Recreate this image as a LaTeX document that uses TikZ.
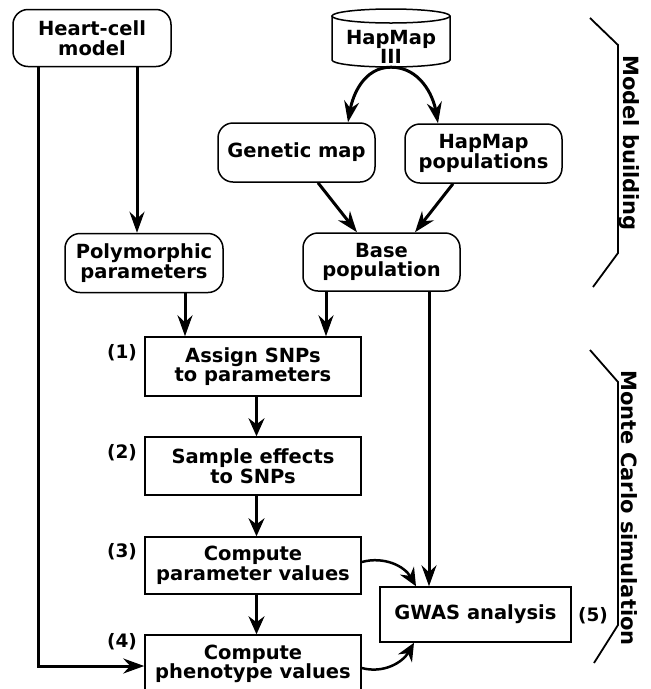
\documentclass[tikz,border=0pt]{standalone}
\usepackage{fontspec}
\setmainfont{DejaVu Sans}
\usetikzlibrary{arrows.meta}
\begin{document}
\begin{tikzpicture}[x=1pt,y=-1pt,
  every node/.style={font=\bfseries\fontsize{19.5}{19.5}\selectfont, align=center, inner sep=0pt},
  rbox/.style={draw, line width=1.5pt, rounded corners=15pt},
  sbox/.style={draw, line width=1.5pt},
  arr/.style={line width=3pt, -{Stealth[length=21pt,width=15pt,inset=7pt]}},
  sarr/.style={line width=2.5pt, -{Stealth[length=18pt,width=16pt,inset=6pt]}},
  brk/.style={line width=1.8pt},
  num/.style={font=\bfseries\fontsize{18.5}{18.5}\selectfont},
  side/.style={rotate=-90, font=\bfseries\fontsize{21}{21}\selectfont}
]
\useasboundingbox (0,0) rectangle (651,689);

% rounded boxes
\node[rbox, minimum width=158pt, minimum height=57pt] (hc) at (92,38) {Heart-cell\\model};
\node[rbox, minimum width=158pt, minimum height=59pt] (pp) at (144,263) {Polymorphic\\parameters};
\node[rbox, minimum width=157pt, minimum height=59pt] (gm) at (296.5,152.5) {Genetic map};
\node[rbox, minimum width=157pt, minimum height=59pt] (hp) at (483.5,153.5) {HapMap\\populations};
\node[rbox, minimum width=157pt, minimum height=58pt] (bp) at (381.5,262) {Base\\population};

% cylinder
\node[minimum width=118pt, minimum height=58pt] (hm) at (391,38) {};
\draw[line width=1.5pt] (332,16) -- (332,60) arc[start angle=180, end angle=360, x radius=59pt, y radius=7pt] -- (450,16);
\draw[line width=1.5pt] (391,16) ellipse [x radius=59pt, y radius=7pt];
\node[font=\bfseries\fontsize{19.5}{17}\selectfont] (hmt) at (391,47) {HapMap\\III};

% square boxes
\node[sbox, minimum width=216pt, minimum height=59pt] (a1) at (253,366.5) {Assign SNPs\\to parameters};
\node[sbox, minimum width=216pt, minimum height=58pt] (a2) at (253,466) {Sample effects\\to SNPs};
\node[sbox, minimum width=216pt, minimum height=57pt] (a3) at (253,565.5) {Compute\\parameter values};
\node[sbox, minimum width=216pt, minimum height=58pt] (a4) at (253,664) {Compute\\phenotype values};
\node[sbox, minimum width=191pt, minimum height=55pt] (gw) at (475.5,614.5) {GWAS analysis};

% step numbers
\node[num] (n1) at (122,353) {(1)};
\node[num] (n2) at (122,453) {(2)};
\node[num] (n3) at (122,552) {(3)};
\node[num] (n4) at (122,642) {(4)};
\node[num] (n5) at (593,616) {(5)};

% arrows
\draw[arr] (hm.south) to[out=180, in=80] ([xshift=51.5pt]gm.north);
\draw[arr] (hm.south) to[out=0, in=100] ([xshift=-45.5pt]hp.north);
\draw[arr] ([xshift=21.5pt]gm.south) -- ([xshift=-24.5pt]bp.north);
\draw[arr] ([xshift=-30.5pt]hp.south) -- ([xshift=33.5pt]bp.north);
\draw[arr] ([xshift=45pt]hc.south) -- ([xshift=45pt]hc.south |- pp.north);
\draw[arr] ([xshift=-54pt]hc.south) |- ([yshift=-2pt]a4.west);
\draw[arr] ([xshift=41pt]pp.south) -- ([xshift=41pt]pp.south |- a1.north);
\draw[arr] ([xshift=-55.5pt]bp.south) -- ([xshift=-55.5pt]bp.south |- a1.north);
\draw[arr] ([xshift=47.5pt]bp.south) -- ([xshift=47.5pt]bp.south |- gw.north);
\draw[sarr] ([xshift=3.5pt]a1.south) -- ([xshift=3.5pt]a2.north);
\draw[sarr] ([xshift=3.5pt]a2.south) -- ([xshift=3.5pt]a3.north);
\draw[sarr] ([xshift=3.5pt]a3.south) -- ([xshift=3.5pt]a4.north);
\draw[sarr] ([yshift=3.5pt]a3.east) to[out=15, in=120] ([xshift=-59.5pt]gw.north);
\draw[sarr] ([yshift=-4pt]a4.east) to[out=-15, in=240] ([xshift=-61.5pt]gw.south);

% brackets
\draw[brk] (590,18) -- (618,45) -- (618,253) -- (593,287);
\node[side] (mb) at (629,143) {Model building};
\draw[brk] (590,350) -- (618,382) -- (618,625) -- (594,663);
\node[side] (mc) at (629,508) {Monte Carlo simulation};
\end{tikzpicture}
\end{document}
